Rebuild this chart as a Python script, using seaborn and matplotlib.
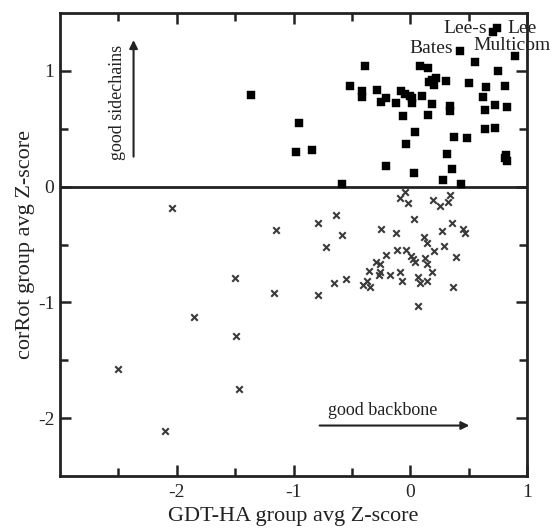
import matplotlib
matplotlib.use("Agg")
import matplotlib.pyplot as plt
import seaborn as sns
import pandas as pd

# Sidechain-good (squares) series
sq_x = [0.71, 0.74, 0.43, 0.90, 0.557, 0.75, -0.386, 0.086, 0.154, -0.52, -0.41, -0.41,
        -0.285, -0.08, -0.043, 0.0, 0.014, 0.014, -0.25, -0.206, -0.126, 0.1, 0.186, 0.16,
        0.189, 0.20, 0.217, 0.31, 0.503, 0.65, 0.81, 0.343, 0.343, 0.62, 0.637, 0.73, 0.83,
        0.154, -0.06, -0.954, 0.043, 0.371, 0.49, 0.637, 0.73, -0.977, -0.84, -0.034, 0.317,
        0.81, 0.83, 0.82, -0.21, 0.034, 0.357, 0.277, 0.434, -0.585, -1.36]
sq_y = [1.34, 1.37, 1.17, 1.13, 1.08, 1.0, 1.045, 1.045, 1.025, 0.873, 0.83, 0.776,
        0.836, 0.83, 0.80, 0.785, 0.765, 0.724, 0.73, 0.767, 0.724, 0.78, 0.716, 0.90,
        0.925, 0.88, 0.94, 0.916, 0.896, 0.862, 0.87, 0.695, 0.652, 0.77, 0.66, 0.703, 0.686,
        0.623, 0.609, 0.552, 0.47, 0.43, 0.42, 0.50, 0.51, 0.30, 0.32, 0.365, 0.278,
        0.25, 0.22, 0.27, 0.178, 0.115, 0.149, 0.057, 0.022, 0.022, 0.795]

# Sidechain-poor (crosses) series
cr_x = [-2.04, -1.154, -1.5, -1.17, -1.85, -1.494, -2.5, -1.463, -2.1,
        -0.049, -0.086, -0.023, 0.194, 0.257, 0.32, 0.337,
        -0.786, -0.637, -0.585, -0.723, -0.251, -0.12, 0.034, 0.357, 0.271, 0.452, 0.466,
        0.12, 0.143, 0.286, 0.2, 0.394, -0.114, -0.034, -0.208, 0.006, 0.023, 0.043, 0.129,
        0.143, -0.291, -0.257, -0.351, -0.27, -0.257, -0.177, -0.086, -0.069, 0.186, 0.063,
        0.08, 0.143, -0.548, -0.657, -0.371, -0.405, -0.343, -0.786, 0.366, 0.066]
cr_y = [-0.184, -0.374, -0.793, -0.92, -1.124, -1.288, -1.575, -1.747, -2.107,
        -0.043, -0.095, -0.138, -0.118, -0.167, -0.13, -0.072,
        -0.31, -0.247, -0.417, -0.52, -0.362, -0.397, -0.276, -0.316, -0.382, -0.368, -0.397,
        -0.434, -0.49, -0.517, -0.56, -0.612, -0.546, -0.546, -0.59, -0.598, -0.627, -0.655, -0.618,
        -0.67, -0.647, -0.67, -0.727, -0.762, -0.741, -0.762, -0.741, -0.819, -0.741, -0.784,
        -0.836, -0.819, -0.8, -0.836, -0.814, -0.848, -0.871, -0.937, -0.865, -1.029]

# Named labels
label_names = ["Lee-s", "Lee", "Bates", "Multicom"]
label_x = [0.657, 0.829, 0.366, 0.54]
label_y = [1.37, 1.37, 1.19, 1.218]
label_ha = ["right", "left", "right", "left"]

x_ticks = [-2, -1, 0, 1]
y_ticks = [-2, -1, 0, 1]

sns.set_style("ticks")
plt.rcParams["font.family"] = ["Liberation Serif", "DejaVu Serif"]

fig = plt.figure(figsize=(5.53, 5.32), dpi=100)
ax = fig.add_axes([60 / 553, 1 - 476 / 532, 467 / 553, 463 / 532])

df_sq = pd.DataFrame({"x": sq_x, "y": sq_y})
df_cr = pd.DataFrame({"x": cr_x, "y": cr_y})

sns.scatterplot(data=df_sq, x="x", y="y", ax=ax, marker="s", s=28, color="black",
                edgecolor="black", linewidth=0.3, zorder=3)
sns.scatterplot(data=df_cr, x="x", y="y", ax=ax, marker="x", s=22, color="#3a3a3a",
                linewidth=1.5, zorder=3)

ax.axhline(0, color="#222222", lw=2, zorder=2)

ax.set_xlim(-3, 1)
ax.set_ylim(-2.5, 1.5)
ax.set_xticks(x_ticks)
ax.set_yticks(y_ticks)
ax.set_xticklabels([str(t) for t in x_ticks])
ax.set_yticklabels([str(t) for t in y_ticks])
ax.set_xticks([-2.5, -1.5, -0.5, 0.5], minor=True)
ax.set_yticks([-1.5, -0.5, 0.5], minor=True)
ax.tick_params(which="both", direction="in", top=True, right=True, width=1.8,
               color="#222222", labelsize=14)
ax.tick_params(axis="x", which="major", pad=6)
ax.tick_params(axis="y", which="major", pad=4)
ax.tick_params(which="major", length=8)
ax.tick_params(which="minor", length=6)
for sp in ax.spines.values():
    sp.set_linewidth(2)
    sp.set_color("#222222")

ax.set_xlabel("GDT-HA group avg Z-score", fontsize=16, labelpad=4, color="#222222")
ax.set_ylabel("corRot group avg Z-score", fontsize=16, labelpad=2, color="#222222")

for name, lx, ly, ha in zip(label_names, label_x, label_y, label_ha):
    ax.text(lx, ly, name, ha=ha, va="center", fontsize=14, color="#222222", clip_on=False)

# annotation arrows
ax.annotate("", xy=(-2.37, 1.29), xytext=(-2.37, 0.235),
            arrowprops=dict(arrowstyle="-|>", color="#222222", lw=1.5, mutation_scale=12))
ax.text(-2.51, 0.73, "good sidechains", rotation=90, ha="center", va="center",
        fontsize=13, color="#222222")
ax.annotate("", xy=(0.53, -2.064), xytext=(-0.80, -2.064),
            arrowprops=dict(arrowstyle="-|>", color="#222222", lw=1.5, mutation_scale=12))
ax.text(-0.24, -1.93, "good backbone", ha="center", va="center", fontsize=13, color="#222222")

fig.savefig("out.png", dpi=100)
